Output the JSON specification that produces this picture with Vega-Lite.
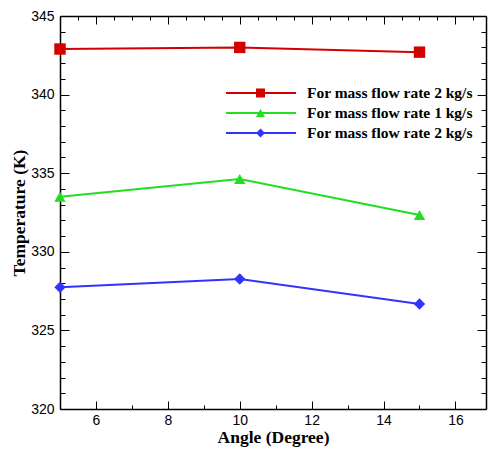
{
  "$schema": "https://vega.github.io/schema/vega-lite/v6.json",
  "width": 426,
  "height": 393,
  "autosize": {"type": "none"},
  "padding": {"left": 60, "top": 16, "right": 3, "bottom": 41},
  "background": "white",
  "config": {"view": {"stroke": null}, "axis": {"grid": false}},
  "data": {
    "values": [
      {"s": "a", "angle": 5, "t": 342.9},
      {"s": "a", "angle": 10, "t": 343.0},
      {"s": "a", "angle": 15, "t": 342.7},
      {"s": "b", "angle": 5, "t": 333.5},
      {"s": "b", "angle": 10, "t": 334.63},
      {"s": "b", "angle": 15, "t": 332.34},
      {"s": "c", "angle": 5, "t": 327.74},
      {"s": "c", "angle": 10, "t": 328.27},
      {"s": "c", "angle": 15, "t": 326.68}
    ]
  },
  "resolve": {"axis": {"x": "independent", "y": "independent"}},
  "layer": [
    {
      "mark": {"type": "line", "strokeWidth": 2},
      "encoding": {
        "x": {
          "field": "angle", "type": "quantitative",
          "scale": {"domain": [5, 16.85], "nice": false, "zero": false},
          "axis": {
            "orient": "bottom", "title": "Angle (Degree)", "format": "d",
            "values": [5,5.5,6,6.5,7,7.5,8,8.5,9,9.5,10,10.5,11,11.5,12,12.5,13,13.5,14,14.5,15,15.5,16,16.5],
            "labelExpr": "datum.value % 2 == 0 ? datum.label : ''",
            "labelOverlap": false, "labelFlush": false,
            "labelFont": "Liberation Sans", "labelFontSize": 14, "labelColor": "black", "labelPadding": 12,
            "titleFont": "Liberation Serif", "titleFontWeight": "bold", "titleFontSize": 17.5, "titleColor": "black",
            "titleY": 28.5, "titleBaseline": "middle",
            "domainColor": "black", "domainWidth": 1.5,
            "tickColor": "black", "tickWidth": 1,
            "tickSize": {"expr": "datum.value % 2 == 0 ? -8 : -4"}
          }
        },
        "y": {
          "field": "t", "type": "quantitative",
          "scale": {"domain": [320, 345], "nice": false, "zero": false},
          "axis": {
            "orient": "left", "title": "Temperature (K)", "format": "d",
            "values": [320,321,322,323,324,325,326,327,328,329,330,331,332,333,334,335,336,337,338,339,340,341,342,343,344,345],
            "labelExpr": "datum.value % 5 == 0 ? datum.label : ''",
            "labelOverlap": false, "labelFlush": false,
            "labelFont": "Liberation Sans", "labelFontSize": 14, "labelColor": "black", "labelPadding": 15,
            "titleFont": "Liberation Serif", "titleFontWeight": "bold", "titleFontSize": 17.5, "titleColor": "black",
            "titleX": -41, "titleY": 196.5, "titleAngle": 270, "titleAlign": "center", "titleBaseline": "middle",
            "domainColor": "black", "domainWidth": 1.5,
            "tickColor": "black", "tickWidth": 1,
            "tickSize": {"expr": "datum.value % 5 == 0 ? -9 : -5"}
          }
        },
        "stroke": {
          "field": "s", "type": "nominal",
          "scale": {"domain": ["a", "b", "c"], "range": ["#d40000", "#22dd22", "#3333ff"]},
          "legend": {
            "title": null, "orient": "none", "legendX": 165, "legendY": 67.25,
            "symbolType": "stroke", "symbolSize": 4900, "symbolStrokeWidth": 2,
            "clipHeight": 19.5, "rowPadding": 0, "padding": 0, "labelOffset": 10,
            "labelFont": "Liberation Serif", "labelFontWeight": "bold", "labelFontSize": 15.5, "labelColor": "black",
            "labelLimit": 400,
            "labelExpr": "datum.value == 'b' ? 'For mass flow rate 1 kg/s' : 'For mass flow rate 2 kg/s'"
          }
        }
      }
    },
    {
      "mark": {"type": "point", "filled": true, "opacity": 1, "size": 130},
      "encoding": {
        "x": {
          "field": "angle", "type": "quantitative",
          "axis": {
            "orient": "top", "title": null, "labels": false,
            "values": [5,5.5,6,6.5,7,7.5,8,8.5,9,9.5,10,10.5,11,11.5,12,12.5,13,13.5,14,14.5,15,15.5,16,16.5],
            "domainColor": "black", "domainWidth": 1.5,
            "tickColor": "black", "tickWidth": 1,
            "tickSize": {"expr": "datum.value % 2 == 0 ? -8 : -4"}
          }
        },
        "y": {
          "field": "t", "type": "quantitative",
          "axis": {
            "orient": "right", "title": null, "labels": false,
            "values": [320,321,322,323,324,325,326,327,328,329,330,331,332,333,334,335,336,337,338,339,340,341,342,343,344,345],
            "domainColor": "black", "domainWidth": 1.5,
            "tickColor": "black", "tickWidth": 1,
            "tickSize": {"expr": "datum.value % 5 == 0 ? -9 : -5"}
          }
        },
        "color": {
          "field": "s", "type": "nominal",
          "scale": {"range": ["#d40000", "#22dd22", "#3333ff"]},
          "legend": {
            "title": null, "orient": "none", "legendX": 195.5, "legendY": 67.25,
            "symbolSize": 81, "symbolStrokeWidth": 0,
            "clipHeight": 19.5, "rowPadding": 0, "padding": 0, "labelOpacity": 0
          }
        },
        "shape": {
          "field": "s", "type": "nominal",
          "scale": {"range": ["square", "triangle-up", "diamond"]},
          "legend": {
            "title": null, "orient": "none", "legendX": 195.5, "legendY": 67.25,
            "symbolSize": 81, "symbolStrokeWidth": 0,
            "clipHeight": 19.5, "rowPadding": 0, "padding": 0, "labelOpacity": 0
          }
        }
      }
    }
  ]
}
